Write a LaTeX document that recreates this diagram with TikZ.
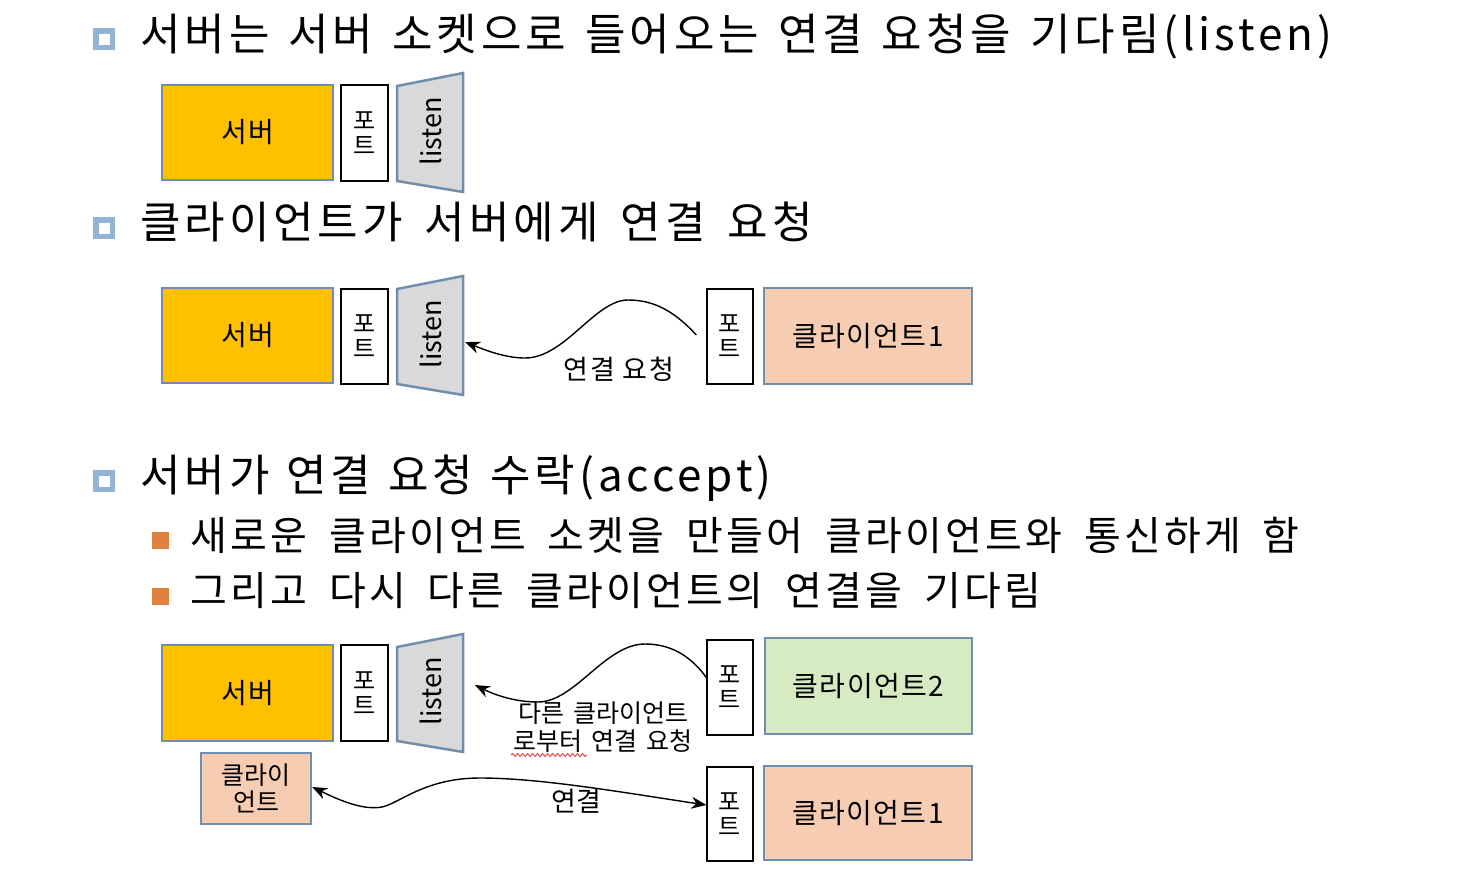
\documentclass[tikz,border=0pt]{standalone}
\usepackage{fontspec}
\setmainfont{Noto Sans CJK KR}
\newfontfamily\hfont[LetterSpace=9]{Noto Sans CJK KR}
\newfontfamily\sfont[LetterSpace=8]{Noto Sans CJK KR}
\newfontfamily\bfont[LetterSpace=5]{Noto Sans CJK KR}
\usetikzlibrary{arrows.meta,decorations.pathmorphing}
\definecolor{srvfill}{HTML}{FFC000}
\definecolor{edgeblue}{HTML}{6F8FAF}
\definecolor{peach}{HTML}{F6CCB3}
\definecolor{mint}{HTML}{D6EBC2}
\definecolor{lgray}{HTML}{D9D9D9}
\definecolor{bulblue}{HTML}{93B4D5}
\definecolor{bulorange}{HTML}{E0813F}
\definecolor{spellred}{HTML}{E84B4B}
\newcommand\wsp[1]{\spaceskip=#1\relax}
\begin{document}
\begin{tikzpicture}[x=1pt,y=-1pt,
  head/.style={anchor=west, inner sep=0pt, font=\hfont\fontsize{44}{48}\selectfont},
  sub/.style={anchor=west, inner sep=0pt, font=\sfont\fontsize{40}{44}\selectfont},
  cbox/.style={draw=edgeblue, line width=2.5pt, inner sep=0pt, font=\bfont\fontsize{28}{32}\selectfont},
  portbox/.style={draw=black, line width=1.3pt, fill=white, inner sep=0pt, align=center, font=\fontsize{24}{25}\selectfont},
  trap/.style={draw=edgeblue, line width=2.5pt, fill=lgray},
  lsn/.style={rotate=90, inner sep=0pt, font=\fontsize{27}{30}\selectfont},
  lab/.style={inner sep=0pt, align=center, font=\fontsize{27}{30}\selectfont},
  conn/.style={line width=1.4pt, -{Stealth[length=15pt,width=12pt]}},
  conn2/.style={line width=1.4pt, {Stealth[length=15pt,width=12pt]}-{Stealth[length=15pt,width=12pt]}},
  bblue/.style={draw=bulblue, line width=5.5pt},
  borange/.style={fill=bulorange}
]
\useasboundingbox (0,0) rectangle (1468,873);

% headings
\draw[bblue] (95.75,30.75) rectangle (112.25,47.25);
\node[head] (h1) at (140,37) {\wsp{19pt}서버는 서버 소켓으로 들어오는 연결 요청을 기다림(listen)};
\draw[bblue] (95.75,219.75) rectangle (112.25,236.25);
\node[head] (h2) at (140,222) {\wsp{22pt}클라이언트가 서버에게 연결 요청};
\draw[bblue] (95.75,472.75) rectangle (112.25,489.25);
\node[head] (h3) at (140,478) {\wsp{17pt}서버가 연결 요청 수락(accept)};
\fill[borange] (151.5,531.5) rectangle (168.5,548.5);
\node[sub] (h4) at (190,535) {\wsp{22pt}새로운 클라이언트 소켓을 만들어 클라이언트와 통신하게 함};
\fill[borange] (151.5,587.5) rectangle (168.5,604.5);
\node[sub] (h5) at (190,591) {\wsp{22pt}그리고 다시 다른 클라이언트의 연결을 기다림};

% row 1
\node[cbox, fill=srvfill, minimum width=171pt, minimum height=95pt] (s1) at (247.5,132.5) {서버};
\node[portbox, minimum width=47pt, minimum height=96pt] (p1) at (364.5,133) {포\\트};
\draw[trap] (397,86) -- (463,73) -- (463,192) -- (397,181) -- cycle;
\node[lsn] (l1) at (431,131) {listen};

% row 2
\node[cbox, fill=srvfill, minimum width=171pt, minimum height=95pt] (s2) at (247.5,335.5) {서버};
\node[portbox, minimum width=47pt, minimum height=95pt] (p2) at (364.5,336.5) {포\\트};
\draw[trap] (397,289) -- (463,276) -- (463,395) -- (397,384) -- cycle;
\node[lsn] (l2) at (431,334) {listen};
\coordinate (t2r) at (465,342);
\node[portbox, minimum width=46pt, minimum height=95pt] (cp2) at (730,336.5) {포\\트};
\node[cbox, fill=peach, minimum width=208pt, minimum height=96pt] (c1a) at (868,336) {클라이언트1};
\draw[conn] ([xshift=-10pt,yshift=1.5pt]cp2.west) .. controls (675,312) and (655,300) .. (628,300)
  .. controls (595,300) and (565,358) .. (525,358) .. controls (505,358) and (485,350) .. (t2r);
\node[lab, font=\bfont\fontsize{27}{30}\selectfont] (lab2) at (619,369) {\wsp{8pt}연결 요청};

% row 3
\node[cbox, fill=srvfill, minimum width=171pt, minimum height=96pt] (s3) at (247.5,693) {서버};
\node[portbox, minimum width=47pt, minimum height=96pt] (p3) at (364.5,693) {포\\트};
\draw[trap] (397,647) -- (463,634) -- (463,752) -- (397,741) -- cycle;
\node[lsn] (l3) at (431,691) {listen};
\coordinate (t3r) at (475,685);
\node[portbox, minimum width=46pt, minimum height=95pt] (cp3) at (730,687.5) {포\\트};
\node[cbox, fill=mint, minimum width=207pt, minimum height=96pt] (c2) at (868.5,686) {클라이언트2};
\draw[conn] ([yshift=10pt]cp3.west) .. controls (690,655) and (670,644) .. (645,644)
  .. controls (605,644) and (575,702) .. (538,702) .. controls (515,702) and (495,695) .. (t3r);
\node[lab, font=\fontsize{25}{28}\selectfont] (lab3) at (603,727.5) {\wsp{9pt}다른 클라이언트\\\wsp{9pt}로부터 연결 요청};
\draw[spellred, line width=1pt, decorate, decoration={snake, amplitude=1.5pt, segment length=5pt}] (511,755) -- (587,755);

\node[cbox, fill=peach, minimum width=110pt, minimum height=71pt, align=center, font=\fontsize{25}{27}\selectfont] (sc) at (256,788.5) {클라이\\언트};
\node[portbox, minimum width=46pt, minimum height=94pt] (cp4) at (730,814) {포\\트};
\node[cbox, fill=peach, minimum width=208pt, minimum height=94pt] (c1b) at (868,813) {클라이언트1};
\draw[conn2] ([yshift=1.5pt]sc.east) .. controls (345,803) and (365,810) .. (382,807)
  .. controls (400,803) and (425,778) .. (480,778) .. controls (540,778) and (620,792) .. ([yshift=9pt]cp4.west);
\node[lab] (lab4) at (576,801) {연결};
\end{tikzpicture}
\end{document}
